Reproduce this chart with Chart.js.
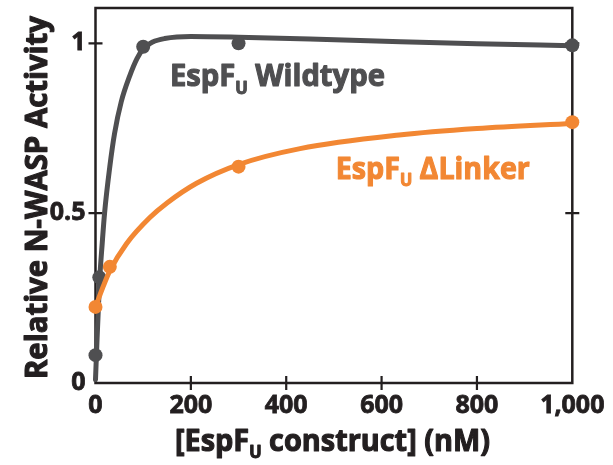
<!DOCTYPE html>
<html>
<head>
<meta charset="utf-8">
<title>EspFU N-WASP activity</title>
<script src="https://cdn.jsdelivr.net/npm/chart.js@4"></script>
<style>
  html, body { margin: 0; padding: 0; background: #fff; }
  #wrap { width: 613px; height: 465px; position: relative; }
</style>
</head>
<body>
<div id="wrap"><canvas id="mycanvas"></canvas></div>
<script>
// ---- data ----
var xTicks = [0, 200, 400, 600, 800, 1000];
var yTicks = [0, 0.5, 1];

// measured points
var wtDose = [0, 8, 100, 300, 1000];
var wtActivity = [0.082, 0.311, 0.99, 1.0, 0.994];
var dlDose = [0, 30, 300, 1000];
var dlActivity = [0.224, 0.342, 0.637, 0.768];

// fitted curves
var wtFitX = [0, 3, 6, 9, 14, 19, 30, 40, 54, 72, 87, 100, 120, 145, 200, 300, 450, 640, 800, 1000];
var wtFitY = [0.01, 0.12, 0.22, 0.31, 0.41, 0.5, 0.637, 0.735, 0.828, 0.905, 0.955, 0.984, 1.004, 1.014, 1.02, 1.018, 1.013, 1.005, 0.999, 0.993];
var dlFitX = [0, 15, 30, 65, 114, 150, 212, 300, 429, 637, 800, 1000];
var dlFitY = [0.224, 0.28, 0.33, 0.41, 0.487, 0.53, 0.588, 0.643, 0.69, 0.73, 0.749, 0.764];

var GRAY = "#4f4f51";
var ORANGE = "#f28733";
var INK = "#231f20";
var FONT = "'Open Sans', 'DejaVu Sans', sans-serif";

function pts(xs, ys) {
  var out = [];
  for (var i = 0; i < xs.length; i++) out.push({x: xs[i], y: ys[i]});
  return out;
}

// text with a subscript part, squeezed to a given width (Myriad is narrower than Open Sans)
function drawRich(ctx, parts, x, y, size, color, width, angle) {
  var subSize = Math.round(size * 0.55);
  var total = 0, i;
  for (i = 0; i < parts.length; i++) {
    ctx.font = "bold " + (parts[i][1] ? subSize : size) + "px " + FONT;
    total += ctx.measureText(parts[i][0]).width;
  }
  ctx.save();
  ctx.translate(x, y);
  if (angle) ctx.rotate(angle);
  ctx.scale(width / total, 1);
  ctx.fillStyle = color;
  ctx.strokeStyle = color;
  ctx.lineWidth = 1.1;
  ctx.lineJoin = "round";
  ctx.textBaseline = "alphabetic";
  ctx.textAlign = "left";
  var cx = 0;
  for (i = 0; i < parts.length; i++) {
    ctx.font = "bold " + (parts[i][1] ? subSize : size) + "px " + FONT;
    var dy = parts[i][1] ? size * 0.24 : 0;
    ctx.fillText(parts[i][0], cx, dy);
    ctx.strokeText(parts[i][0], cx, dy);
    cx += ctx.measureText(parts[i][0]).width;
  }
  ctx.restore();
}

var frame = {
  id: "frame",
  beforeDatasetsDraw: function(chart) {
    var ctx = chart.ctx, a = chart.chartArea;
    var sx = chart.scales.x, sy = chart.scales.y;
    ctx.save();
    ctx.strokeStyle = INK;
    ctx.lineWidth = 2.5;
    ctx.strokeRect(a.left, a.top, a.right - a.left, a.bottom - a.top);
    ctx.lineWidth = 2.2;
    ctx.beginPath();
    xTicks.forEach(function(v) {
      if (v == 0 || v == 1000) return;
      var px = sx.getPixelForValue(v);
      ctx.moveTo(px, a.bottom - 7); ctx.lineTo(px, a.bottom + 7);
    });
    yTicks.forEach(function(v) {
      if (v == 0) return;
      var py = sy.getPixelForValue(v);
      ctx.moveTo(a.left - 7, py); ctx.lineTo(a.left + 7, py);
      ctx.moveTo(a.right - 7, py); ctx.lineTo(a.right + 7, py);
    });
    ctx.stroke();
    ctx.restore();
  },
  afterDraw: function(chart) {
    var ctx = chart.ctx;
    var sx = chart.scales.x, sy = chart.scales.y;
    drawRich(ctx, [["EspF", 0], ["U", 1], [" Wildtype", 0]],
      sx.getPixelForValue(156), sy.getPixelForValue(0.873), 30, GRAY, 215);
    drawRich(ctx, [["EspF", 0], ["U", 1], [" \u0394Linker", 0]],
      sx.getPixelForValue(504), sy.getPixelForValue(0.602), 30, ORANGE, 194);
    drawRich(ctx, [["[EspF", 0], ["U", 1], [" construct] (nM)", 0]],
      175, 451, 30, INK, 315);
    drawRich(ctx, [["Relative N-WASP Activity", 0]],
      47, 379, 30, INK, 363, -Math.PI / 2);
  }
};

var tickFont = { family: FONT, weight: "bold", size: 25 };

var config = {
  type: "scatter",
  data: {
    datasets: [
      { data: pts(wtFitX, wtFitY), showLine: true, pointRadius: 0, borderColor: GRAY,
        borderWidth: 5, cubicInterpolationMode: "monotone", borderCapStyle: "round", clip: false, order: 4 },
      { data: pts(wtDose, wtActivity), showLine: false, pointRadius: 7, backgroundColor: GRAY,
        borderWidth: 0, clip: false, order: 3 },
      { data: pts(dlFitX, dlFitY), showLine: true, pointRadius: 0, borderColor: ORANGE,
        borderWidth: 5, cubicInterpolationMode: "monotone", borderCapStyle: "round", clip: false, order: 2 },
      { data: pts(dlDose, dlActivity), showLine: false, pointRadius: 7, backgroundColor: ORANGE,
        borderWidth: 0, clip: false, order: 1 }
    ]
  },
  options: {
    responsive: true,
    maintainAspectRatio: false,
    animation: false,
    events: [],
    layout: { padding: { left: 0, right: 40.7, top: 8, bottom: 0 } },
    plugins: { legend: { display: false }, tooltip: { enabled: false } },
    scales: {
      x: {
        type: "linear", min: 0, max: 1000,
        afterBuildTicks: function(s) { s.ticks = xTicks.map(function(v) { return {value: v}; }); },
        afterFit: function(s) { s.height = 82; s.paddingLeft = 0; s.paddingRight = 0; },
        grid: { display: false, drawTicks: false },
        border: { display: false },
        ticks: { padding: 8, color: INK, font: tickFont, textStrokeColor: INK, textStrokeWidth: 0.8,
          callback: function(v) { return v.toLocaleString("en-US"); } }
      },
      y: {
        type: "linear", min: 0, max: 1.104,
        afterBuildTicks: function(s) { s.ticks = yTicks.map(function(v) { return {value: v}; }); },
        afterFit: function(s) { s.width = 95.5; s.paddingTop = 0; s.paddingBottom = 0; },
        grid: { display: false, drawTicks: false },
        border: { display: false },
        ticks: { padding: 10, color: INK, font: tickFont, textStrokeColor: INK, textStrokeWidth: 0.8,
          callback: function(v) { return String(v); } }
      }
    }
  },
  plugins: [frame]
};

window.onload = function() {
  new Chart(document.getElementById("mycanvas").getContext("2d"), config);
};
</script>
</body>
</html>
